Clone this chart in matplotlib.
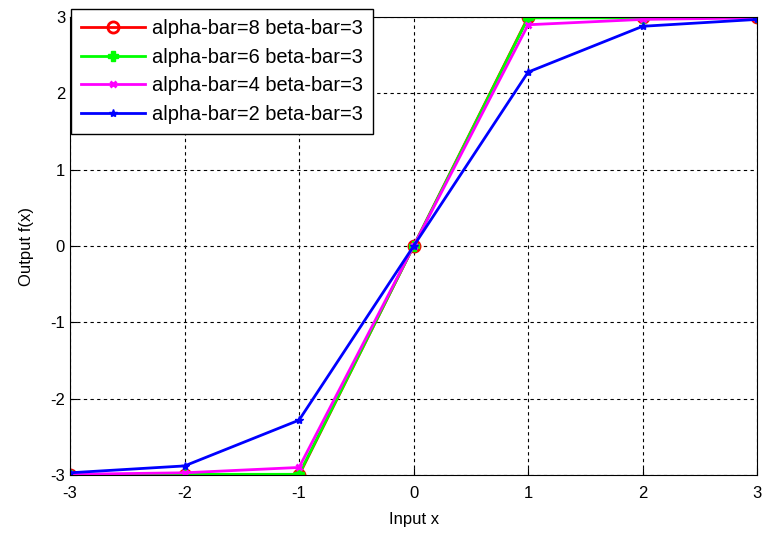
import numpy as np
import matplotlib.pyplot as plt

plt.rcParams['font.family'] = ['Liberation Sans', 'DejaVu Sans']
plt.rcParams['axes.unicode_minus'] = False

# data
x = [-3, -2, -1, 0, 1, 2, 3]
y_a8 = [-3.0, -3.0, -3.0, 0.0, 3.0, 3.0, 3.0]
y_a6 = [-3.0, -2.99, -2.99, 0.0, 2.99, 2.99, 3.0]
y_a4 = [-2.99, -2.97, -2.9, 0.0, 2.9, 2.97, 2.99]
y_a2 = [-2.97, -2.88, -2.28, 0.0, 2.28, 2.88, 2.97]
labels = ['alpha-bar=8 beta-bar=3', 'alpha-bar=6 beta-bar=3',
          'alpha-bar=4 beta-bar=3', 'alpha-bar=2 beta-bar=3']

fig = plt.figure(figsize=(7.64, 5.35), dpi=100)
ax = fig.add_axes([0.0916, 0.112, 0.8995, 0.856])

ax.plot(x, y_a8, color='#ff0000', lw=2, marker='o', ms=8, mfc='none', mew=2, label=labels[0])
ax.plot(x, y_a6, color='#00ff00', lw=2, marker='P', ms=7, label=labels[1])
ax.plot(x, y_a4, color='#ff00ff', lw=2, marker='x', ms=5, mew=2, label=labels[2])
ax.plot(x, y_a2, color='#0000ff', lw=2, marker='*', ms=6, label=labels[3])

ax.set_xlim(-3, 3)
ax.set_ylim(-3, 3)
ax.set_xticks(range(-3, 4))
ax.set_yticks(range(-3, 4))
ax.tick_params(direction='in', labelsize=12, length=5)
ax.tick_params(axis='x', pad=8)
ax.grid(True, color='black', linestyle=(0, (3, 3)), lw=0.8)
ax.set_xlabel('Input x', fontsize=12, labelpad=8)
ax.set_ylabel('Output f(x)', fontsize=12, labelpad=12)

leg = ax.legend(loc='upper left', bbox_to_anchor=(71 / 764, 1 - 9 / 535),
                bbox_transform=fig.transFigure, fontsize=14.4, fancybox=False,
                framealpha=1, edgecolor='black', handlelength=3.2,
                handletextpad=0.35, labelspacing=0.48, borderpad=0.5,
                borderaxespad=0)
leg.get_frame().set_linewidth(1)

plt.savefig('out.png', dpi=100)
